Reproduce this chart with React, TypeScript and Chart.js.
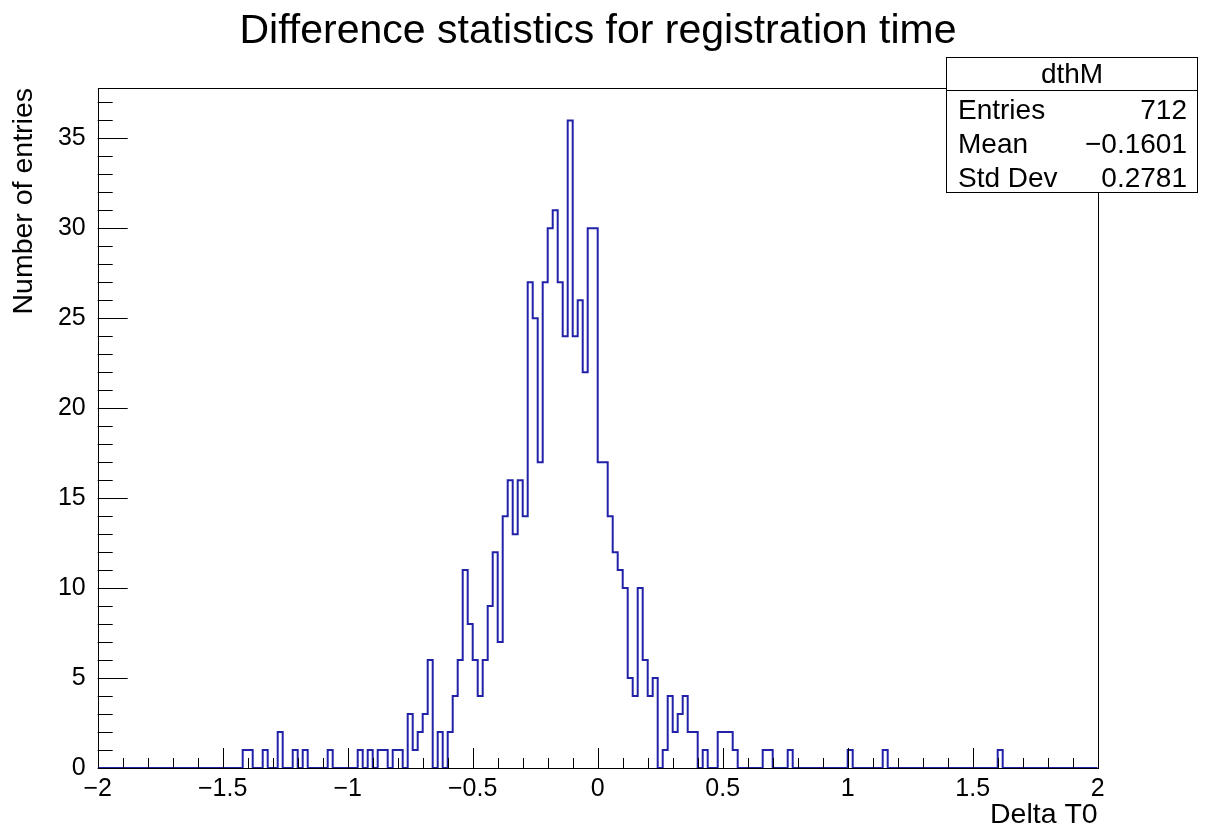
import React, { useEffect, useRef } from "react";
import { Chart, registerables } from "chart.js";

Chart.register(...registerables);

// ---- Histogram definition (ROOT TH1: 200 bins on [-2, 2]) ----
const HIST_MIN = -2;
const HIST_MAX = 2;
const N_BINS = 200;

// bin contents (20 bins per row, row k starts at -2 + 0.4*k)
const binCounts: number[] = [
  0, 0, 0, 0, 0, 0, 0, 0, 0, 0, 0, 0, 0, 0, 0, 0, 0, 0, 0, 0,
  0, 0, 0, 0, 0, 0, 0, 0, 0, 1, 1, 0, 0, 1, 0, 0, 2, 0, 0, 1,
  0, 1, 0, 0, 0, 0, 1, 0, 0, 0, 0, 0, 1, 0, 1, 0, 1, 1, 0, 1,
  1, 0, 3, 1, 2, 3, 6, 0, 2, 0, 2, 4, 6, 11, 8, 6, 4, 6, 9, 12,
  7, 14, 16, 13, 16, 14, 27, 25, 17, 27, 30, 31, 27, 24, 36, 24, 26, 22, 30, 30,
  17, 17, 14, 12, 11, 10, 5, 4, 10, 6, 4, 5, 0, 1, 4, 2, 3, 4, 2, 2,
  0, 1, 0, 0, 2, 2, 2, 1, 0, 0, 0, 0, 0, 1, 1, 0, 0, 0, 1, 0,
  0, 0, 0, 0, 0, 0, 0, 0, 0, 0, 1, 0, 0, 0, 0, 0, 0, 1, 0, 0,
  0, 0, 0, 0, 0, 0, 0, 0, 0, 0, 0, 0, 0, 0, 0, 0, 0, 0, 0, 0,
  1, 0, 0, 0, 0, 0, 0, 0, 0, 0, 0, 0, 0, 0, 0, 0, 0, 0, 0, 0,
];

const xTickValues = [-2, -1.5, -1, -0.5, 0, 0.5, 1, 1.5, 2];
const xTickLabels = ["\u22122", "\u22121.5", "\u22121", "\u22120.5", "0", "0.5", "1", "1.5", "2"];
const yTickValues = [0, 5, 10, 15, 20, 25, 30, 35];
const yTickLabels = ["0", "5", "10", "15", "20", "25", "30", "35"];
const Y_MAX = 37.8;

const titleText = "Difference statistics for registration time";
const xAxisTitle = "Delta T0";
const yAxisTitle = "Number of entries";
const statsName = "dthM";
const statsLabels = ["Entries", "Mean", "Std Dev"];
const statsValues = ["712", "\u22120.1601", "0.2781"];

const FONT = "'Liberation Sans', Arial, Helvetica, sans-serif";
const LINE_COLOR = "#2222a8";

const W = 1206;
const H = 831;

const rootOverlay = {
  id: "rootOverlay",
  afterDatasetsDraw(chart: any) {
    const { ctx, chartArea } = chart;
    const { left, right, top, bottom } = chartArea;
    const xs = chart.scales.x;
    const ys = chart.scales.y;
    ctx.save();
    ctx.strokeStyle = "#000";
    ctx.lineWidth = 1;
    // frame
    ctx.strokeRect(Math.round(left) + 0.5, Math.round(top) + 0.5, Math.round(right - left), Math.round(bottom - top));
    // x ticks (inside): major 0.5, minor 0.1
    ctx.beginPath();
    for (let k = 0; k <= 40; k++) {
      const v = HIST_MIN + k * 0.1;
      const px = Math.round(xs.getPixelForValue(v)) + 0.5;
      const len = k % 5 === 0 ? 20 : 10;
      ctx.moveTo(px, bottom);
      ctx.lineTo(px, bottom - len);
    }
    // y ticks (inside): major 5, minor 1
    for (let k = 0; k <= Math.floor(Y_MAX); k++) {
      const py = Math.round(ys.getPixelForValue(k)) + 0.5;
      const len = k % 5 === 0 ? 30 : 15;
      ctx.moveTo(left, py);
      ctx.lineTo(left + len, py);
    }
    ctx.stroke();
    ctx.restore();
  },
  afterDraw(chart: any) {
    const { ctx, chartArea } = chart;
    const { right, top } = chartArea;
    ctx.save();
    ctx.fillStyle = "#000";
    // title
    ctx.font = `41px ${FONT}`;
    ctx.textAlign = "center";
    ctx.textBaseline = "alphabetic";
    ctx.fillText(titleText, 598, 43);
    // x axis title
    ctx.font = `28.5px ${FONT}`;
    ctx.textAlign = "right";
    ctx.fillText(xAxisTitle, right, 823);
    // y axis title
    ctx.save();
    ctx.translate(32, top);
    ctx.rotate(-Math.PI / 2);
    ctx.textAlign = "right";
    ctx.fillText(yAxisTitle, 0, 0);
    ctx.restore();
    // stats box
    const bx = 946.5, by = 57.5, bw = 251, bh = 135;
    ctx.fillStyle = "#fff";
    ctx.fillRect(bx, by, bw, bh);
    ctx.strokeStyle = "#000";
    ctx.lineWidth = 1;
    ctx.strokeRect(bx, by, bw, bh);
    ctx.beginPath();
    ctx.moveTo(bx, 90.5);
    ctx.lineTo(bx + bw, 90.5);
    ctx.stroke();
    ctx.fillStyle = "#000";
    ctx.font = `28px ${FONT}`;
    ctx.textAlign = "center";
    ctx.fillText(statsName, bx + bw / 2, 83);
    const rowBase = [119, 153, 187];
    for (let i = 0; i < statsLabels.length; i++) {
      ctx.textAlign = "left";
      ctx.fillText(statsLabels[i], 958, rowBase[i]);
      ctx.textAlign = "right";
      ctx.fillText(statsValues[i], 1187, rowBase[i]);
    }
    ctx.restore();
  },
};

export default function App() {
  const canvasRef = useRef<HTMLCanvasElement | null>(null);

  useEffect(() => {
    const canvas = canvasRef.current;
    if (!canvas) return;
    const binWidth = (HIST_MAX - HIST_MIN) / N_BINS;
    const points = binCounts.map((c, i) => ({ x: HIST_MIN + i * binWidth, y: c }));
    points.push({ x: HIST_MAX, y: 0 });

    const chart = new Chart(canvas, {
      type: "line",
      data: {
        datasets: [
          {
            data: points,
            stepped: "before",
            borderColor: LINE_COLOR,
            borderWidth: 2,
            pointRadius: 0,
            fill: false,
            tension: 0,
          } as any,
        ],
      },
      options: {
        animation: false,
        responsive: false,
        maintainAspectRatio: false,
        devicePixelRatio: 1,
        layout: { padding: { left: 0, right: 108.3, top: 88, bottom: 0 } },
        plugins: {
          legend: { display: false },
          tooltip: { enabled: false },
          title: { display: false },
        },
        scales: {
          x: {
            type: "linear",
            min: HIST_MIN,
            max: HIST_MAX,
            grid: { display: false, drawTicks: false },
            border: { display: false },
            afterBuildTicks: (s: any) => {
              s.ticks = xTickValues.map((v) => ({ value: v }));
            },
            afterFit: (s: any) => {
              s.height = 63;
            },
            ticks: {
              callback: (_v: any, i: number) => xTickLabels[i],
              padding: 6,
              color: "#000",
              font: { family: FONT, size: 25 },
              maxRotation: 0,
              autoSkip: false,
            },
          },
          y: {
            type: "linear",
            min: 0,
            max: Y_MAX,
            grid: { display: false, drawTicks: false },
            border: { display: false },
            afterBuildTicks: (s: any) => {
              s.ticks = yTickValues.map((v) => ({ value: v }));
            },
            afterFit: (s: any) => {
              s.width = 97.7;
            },
            ticks: {
              callback: (_v: any, i: number) => yTickLabels[i],
              padding: 12,
              color: "#000",
              font: { family: FONT, size: 25 },
              autoSkip: false,
            },
          },
        },
      } as any,
      plugins: [rootOverlay],
    });
    return () => chart.destroy();
  }, []);

  return (
    <div style={{ position: "absolute", left: 0, top: 0, width: W, height: H, background: "#fff" }}>
      <canvas ref={canvasRef} width={W} height={H} style={{ display: "block", width: W, height: H }} />
    </div>
  );
}
